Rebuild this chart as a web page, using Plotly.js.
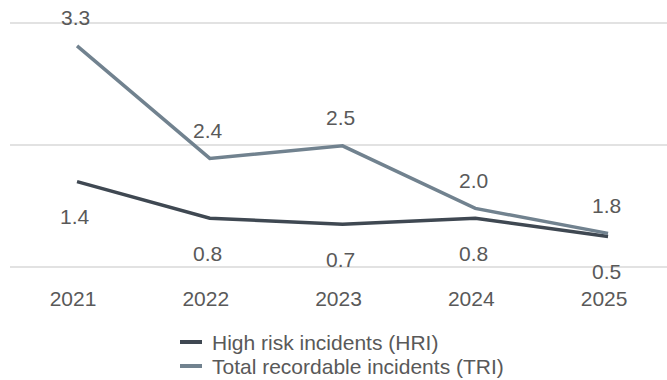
<!DOCTYPE html>
<html>
<head>
<meta charset="utf-8">
<script src="https://cdn.plot.ly/plotly-3.0.1.min.js"></script>
<style>
  html, body { margin: 0; padding: 0; background: #ffffff; }
  #chart { width: 667px; height: 380px; }
</style>
</head>
<body>
<div id="chart"></div>
<script>
// Incident rates by year
const years = ['2021', '2022', '2023', '2024', '2025'];
const hriValues = [1.4, 0.8, 0.7, 0.8, 0.5];   // High risk incidents
const triValues = [3.3, 2.4, 2.5, 2.0, 1.8];   // Total recordable incidents
const seriesNames = ['High risk incidents (HRI)', 'Total recordable incidents (TRI)'];

const hriColor = '#3f4852';
const triColor = '#71828f';
const textColor = '#595959';
const fontFamily = '"Liberation Sans", Arial, sans-serif';
const labelFont = { family: fontFamily, size: 21, color: textColor };

// Plot area in pixels (used to place the hand-built legend)
const W = 667, H = 380;
const M = { l: 10, r: 0, t: 20, b: 110 };
const plotW = W - M.l - M.r, plotH = H - M.t - M.b;
const px2x = px => (px - M.l) / plotW;
const py2y = py => (H - M.b - py) / plotH;

const traces = [
  {
    x: years, y: hriValues, name: seriesNames[0], type: 'scatter', mode: 'lines',
    line: { color: hriColor, width: 3.5 }, yaxis: 'y', hoverinfo: 'skip'
  },
  {
    x: years, y: triValues, name: seriesNames[1], type: 'scatter', mode: 'lines',
    line: { color: triColor, width: 3.5 }, yaxis: 'y2', hoverinfo: 'skip'
  }
];

// Value labels: TRI above its line, HRI below its line
const annotations = [];
years.forEach((yr, i) => {
  annotations.push({
    x: i, y: triValues[i], xref: 'x', yref: 'y2',
    text: triValues[i].toFixed(1), showarrow: false,
    yshift: 28, xshift: -2, font: labelFont
  });
  annotations.push({
    x: i, y: hriValues[i], xref: 'x', yref: 'y',
    text: hriValues[i].toFixed(1), showarrow: false,
    yshift: -35, xshift: -2, font: labelFont
  });
});

// Legend: short line swatch + series name, stacked
const legendColors = [hriColor, triColor];
const legendRowsY = [342, 366];
const shapes = [];
seriesNames.forEach((name, k) => {
  shapes.push({
    type: 'line', xref: 'paper', yref: 'paper',
    x0: px2x(180), x1: px2x(202), y0: py2y(legendRowsY[k]), y1: py2y(legendRowsY[k]),
    line: { color: legendColors[k], width: 4 }
  });
  annotations.push({
    xref: 'paper', yref: 'paper', x: px2x(210), y: py2y(legendRowsY[k]),
    xanchor: 'left', yanchor: 'middle', text: name, showarrow: false,
    font: labelFont
  });
});

const layout = {
  width: W, height: H,
  margin: { l: M.l, r: M.r, t: M.t, b: M.b, pad: 0 },
  paper_bgcolor: '#ffffff', plot_bgcolor: '#ffffff',
  font: labelFont,
  showlegend: false,
  xaxis: {
    type: 'category',
    range: [-0.505, 4.444],
    showgrid: false, zeroline: false, showline: false,
    ticks: '', ticklabelshift: -4, ticklabelstandoff: 14,
    tickfont: labelFont, automargin: false,
    fixedrange: true
  },
  yaxis: {
    range: [-0.0492, 4.0492],
    tickvals: [0, 2, 4],
    showticklabels: false,
    showgrid: true, gridcolor: '#e2e2e2', gridwidth: 2,
    zeroline: false, showline: false, ticks: '', automargin: false,
    fixedrange: true
  },
  yaxis2: {
    range: [1.507, 3.507],
    overlaying: 'y', side: 'right',
    showticklabels: false, showgrid: false,
    zeroline: false, showline: false, ticks: '', automargin: false,
    fixedrange: true
  },
  shapes: shapes,
  annotations: annotations
};

Plotly.newPlot('chart', traces, layout, { displayModeBar: false, staticPlot: true });
</script>
</body>
</html>
